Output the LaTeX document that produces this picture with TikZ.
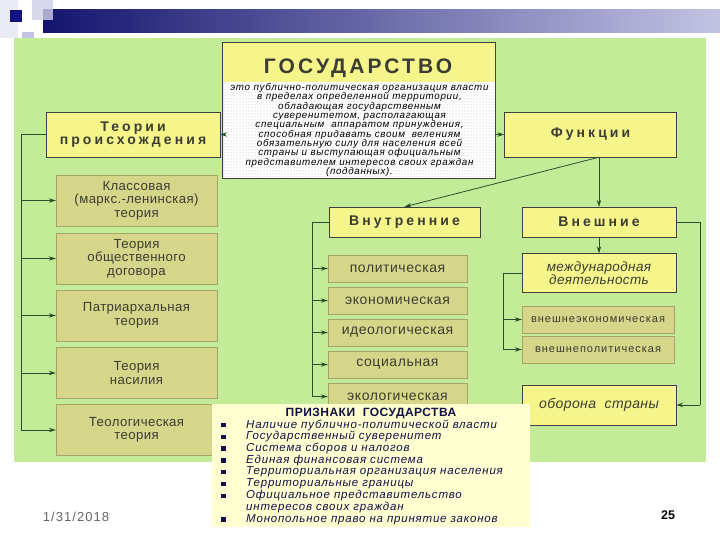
\documentclass[tikz,border=0pt]{standalone}
\usepackage{fontspec}
\setmainfont{Liberation Sans}
\newfontfamily\spacedfont[LetterSpace=22]{Liberation Sans}
\newfontfamily\notefont[LetterSpace=7]{Liberation Sans}
\usetikzlibrary{arrows.meta,patterns}
\definecolor{slidegreen}{RGB}{196,236,152}
\definecolor{boxyellow}{RGB}{245,245,140}
\definecolor{boxolive}{RGB}{214,214,138}
\definecolor{lineolive}{RGB}{165,165,105}
\definecolor{linkgreen}{RGB}{40,80,40}
\definecolor{inkgray}{RGB}{60,60,50}
\definecolor{barnavy}{RGB}{20,20,110}
\definecolor{barlilac}{RGB}{195,195,228}
\definecolor{notecream}{RGB}{255,255,210}
\definecolor{inknavy}{RGB}{16,16,70}

\tikzset{
  yelbox/.style={draw=black!75, fill=boxyellow, inner sep=0pt, text=inkgray, align=center},
  olbox/.style={draw=lineolive, fill=boxolive, inner sep=0pt, text=inkgray, align=center},
  headfont/.style={font=\spacedfont\bfseries\fontsize{14}{15}\selectfont},
  link/.style={draw=linkgreen, line width=0.8pt},
  arr/.style={link, -{Stealth[length=7pt,width=4.5pt]}},
  bullet/.style={fill=inknavy, minimum size=4.5pt, inner sep=0pt},
}

\begin{document}
\begin{tikzpicture}[x=1pt,y=-1pt]
  \useasboundingbox (0,0) rectangle (720,540);
  \fill[white] (0,0) rectangle (720,540);

  % Header bar
  \fill[barlilac!35] (0,0) rectangle (18,38);
  \shade[left color=barnavy, right color=barlilac] (43,10) rectangle (720,33);
  \fill[barlilac!80, opacity=0.8] (32,0) rectangle (53,20);
  \fill[barlilac] (22,32) rectangle (34,38);
  \fill[barnavy!85!blue] (10,10) rectangle (22,22);

  % Slide background
  \fill[slidegreen] (14,38) rectangle (706,462);

  % State
  \node[yelbox, minimum width=273, minimum height=136, anchor=north west] (gosbox) at (222,42) {};
  \node[text=inkgray, font=\fontsize{21}{24}\selectfont\bfseries\addfontfeature{LetterSpace=15}] (gostitle) at (358,68) {ГОСУДАРСТВО};
  \node[preaction={fill=white}, pattern=dots, pattern color=black!30, inner sep=0pt,
        minimum width=271, minimum height=96, anchor=north west] (defbox) at (224,82) {};
  \node[align=center, font=\notefont\itshape\fontsize{9.8}{9.35}\selectfont] (deftext) at (359.5,130) {%
    это публично-политическая организация власти\\
    в пределах определенной территории,\\
    обладающая государственным\\
    суверенитетом, располагающая\\
    специальным\ \ аппаратом принуждения,\\
    способная придавать своим\ \ велениям\\
    обязательную силу для населения всей\\
    страны и выступающая официальным\\
    представителем интересов своих граждан\\
    (подданных).};

  % Theories of origin
  \node[yelbox, headfont, minimum width=174, minimum height=45] (teorii) at (133,134.5) {Теории\\[-2pt]происхождения};
  \foreach \name/\y/\txt in {t1/200.5/{Классовая\\(маркс.-ленинская)\\теория},
                             t2/258.5/{Теория\\общественного\\договора},
                             t3/315.5/{Патриархальная\\теория},
                             t4/373/{Теория\\насилия},
                             t5/430/{Теологическая\\теория}}
    \node[olbox, minimum width=161, minimum height=51,
          font=\fontsize{13.2}{13.5}\selectfont\addfontfeature{LetterSpace=3}] (\name) at (136.5,\y) {\txt};

  % Functions
  \node[yelbox, headfont, minimum width=172, minimum height=45] (funk) at (590.5,134.5) {Функции};
  \node[yelbox, headfont, minimum width=151, minimum height=30] (vnutr) at (404.5,222) {Внутренние};
  \node[yelbox, headfont, minimum width=154, minimum height=30] (vnesh) at (599,222) {Внешние};
  \foreach \name/\y/\txt in {i1/268.5/политическая, i2/300.5/экономическая, i3/332.5/идеологическая,
                             i4/364.5/социальная, i5/396.5/экологическая}
    \node[olbox, minimum width=139, minimum height=27,
          font=\fontsize{14}{15}\selectfont\addfontfeature{LetterSpace=4}] (\name) at (397.5,\y) {\txt};
  \node[yelbox, minimum width=154, minimum height=39,
        font=\itshape\fontsize{13.5}{13.5}\selectfont\addfontfeature{LetterSpace=3}] (mezhd) at (599,273) {международная\\деятельность};
  \node[olbox, minimum width=152, minimum height=27,
        font=\fontsize{11}{12}\selectfont\addfontfeature{LetterSpace=9}] (ve) at (598,319.5) {внешнеэкономическая};
  \node[olbox, minimum width=152, minimum height=27,
        font=\fontsize{11}{12}\selectfont\addfontfeature{LetterSpace=9}] (vp) at (598,349.5) {внешнеполитическая};
  \node[yelbox, minimum width=154, minimum height=40,
        font=\itshape\fontsize{14}{15}\selectfont\addfontfeature{LetterSpace=3}] (oborona) at (599,405) {оборона\ \ страны};

  % Connectors
  \draw[arr] (defbox.west |- teorii.east) -- (teorii.east);
  \draw[arr] (defbox.east |- funk.west) -- (funk.west);
  \coordinate (lbus) at (21,134.5);
  \draw[link] (teorii.west) -- (lbus) -- (lbus |- t5.west);
  \foreach \name in {t1,t2,t3,t4,t5}
    \draw[arr] (lbus |- \name.west) -- (\name.west);
  \coordinate (fk) at (vnesh.north |- funk.south);
  \draw[arr] (fk) -- (vnutr.north);
  \draw[arr] (fk) -- (vnesh.north);
  \coordinate (ibus) at (312,222);
  \draw[link] (vnutr.west) -- (ibus) -- (ibus |- i5.west);
  \foreach \name in {i1,i2,i3,i4,i5}
    \draw[arr] (ibus |- \name.west) -- (\name.west);
  \draw[arr] (vnesh.south) -- (mezhd.north);
  \coordinate (ebus) at (503,273);
  \draw[link] (mezhd.west) -- (ebus) -- (ebus |- vp.west);
  \draw[arr] (ebus |- ve.west) -- (ve.west);
  \draw[arr] (ebus |- vp.west) -- (vp.west);
  \coordinate (obus) at (700,222);
  \draw[link] (vnesh.east) -- (obus) -- (obus |- oborona.east);
  \draw[arr] (obus |- oborona.east) -- (oborona.east);

  % Features of the state
  \node[fill=notecream, inner sep=0pt, minimum width=318, minimum height=123, anchor=north west] (prizn) at (212,404) {};
  \node[text=inknavy, font=\bfseries\fontsize{12}{12}\selectfont\addfontfeature{LetterSpace=4}] (prtitle) at (371,413.5) {ПРИЗНАКИ\ \ ГОСУДАРСТВА};
  \foreach \i/\y/\txt in {1/425/Наличие публично-политической власти,
                          2/436.8/Государственный суверенитет,
                          3/448.6/Система сборов и налогов,
                          4/460.4/Единая финансовая система,
                          5/472.2/Территориальная организация населения,
                          6/484/Территориальные границы,
                          7/495.8/Официальное представительство,
                          9/519.4/Монопольное право на принятие законов}
  {
    \node[bullet] (b\i) at (223.5,\y) {};
    \node[anchor=west, inner sep=0pt, text=inknavy, font=\notefont\itshape\fontsize{11.5}{12}\selectfont] (p\i) at (246,\y) {\txt};
  }
  \node[anchor=west, inner sep=0pt, text=inknavy, font=\notefont\itshape\fontsize{11.5}{12}\selectfont] (p8) at (246,507.6) {интересов своих граждан};

  % Footer
  \node[text=black!60, font=\fontsize{13}{14}\selectfont\addfontfeature{LetterSpace=8}] (date) at (76,517) {1/31/2018};
  \node[font=\bfseries\fontsize{12.5}{14}\selectfont] (page) at (668,515) {25};
\end{tikzpicture}
\end{document}
